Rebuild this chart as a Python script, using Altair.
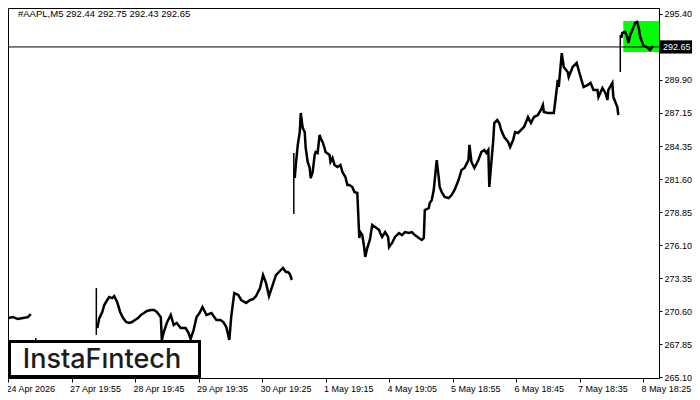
import altair as alt
import pandas as pd

# ---- price path (bar number ~ screen column, price) ----
a_bar = [3, 8, 13, 18, 23, 26]
a_px = [270.02, 270.10, 269.94, 270.02, 270.10, 270.36]

b_bar = [28, 31, 35, 45, 55, 65, 75, 85, 91]
b_px = [267.6, 267.9, 267.3, 266.9, 266.6, 266.8, 267.0, 267.2, 267.5]

c_bar = [93, 95, 98, 100, 103, 105, 108, 110, 113, 116, 119, 122, 125, 128, 131, 134,
         137, 140, 143, 147, 150, 153, 157, 158, 160, 163, 167, 170, 173, 177, 182, 185,
         187, 190, 193, 196, 199, 203, 208, 213, 217, 220, 223, 226, 228, 231, 235, 238,
         243, 247, 250, 253, 257, 260, 263, 266, 268, 273, 277, 280, 283, 285, 287, 289]
c_px = [269.19, 270.02, 270.53, 271.11, 271.53, 271.78, 271.69, 271.86, 271.36, 270.53,
        270.02, 269.69, 269.61, 269.69, 269.86, 270.02, 270.28, 270.44, 270.61, 270.69,
        270.69, 270.53, 270.10, 268.19, 268.86, 269.61, 270.28, 269.44, 269.61, 269.19,
        269.19, 268.77, 268.27, 269.02, 270.10, 270.44, 270.94, 270.28, 270.44, 269.86,
        269.86, 269.69, 269.27, 268.19, 270.19, 272.11, 271.95, 271.53, 271.28, 271.53,
        271.61, 271.86, 272.53, 273.61, 272.95, 271.86, 272.36, 273.61, 273.95, 274.20,
        273.86, 273.86, 273.70, 273.20]

d_bar = [292, 293, 295, 297, 298, 300, 302, 303, 305, 307, 308, 310, 312, 313, 315, 317,
         318, 320, 322, 323, 327, 328, 330, 332, 335, 338, 340, 343, 345, 347, 350, 352,
         355, 357, 358, 360, 362, 363, 365, 367, 368, 370, 373, 377, 378, 380, 383, 386,
         387, 390, 393, 397, 400, 403, 407, 410, 413, 417, 420, 422, 423, 425, 427, 428,
         430, 432, 433, 435, 437, 438, 440, 443, 447, 450, 453, 457, 460, 463, 467, 468,
         470, 473, 477, 480, 483, 485, 487, 488, 490, 492, 493, 496, 498, 500, 503, 507,
         509, 512, 514, 517, 520, 523, 527, 530, 533, 537, 540, 542, 543, 547, 553, 555,
         557, 558, 561, 563, 567, 568, 572, 576, 580, 583, 587, 590, 593, 597, 598, 602,
         605, 607, 608, 612, 613, 617, 618]
d_px = [281.71, 282.80, 284.47, 285.55, 287.14, 285.88, 285.55, 284.21, 283.05, 282.55,
        281.71, 282.21, 283.63, 283.88, 283.80, 285.30, 285.05, 284.72, 284.21, 283.88,
        283.63, 283.05, 283.38, 282.80, 282.63, 282.80, 282.21, 281.79, 281.13, 281.13,
        280.96, 280.54, 280.46, 276.70, 277.20, 276.95, 275.87, 275.12, 275.87, 276.37,
        276.70, 277.79, 277.62, 277.37, 277.12, 276.79, 277.20, 276.79, 275.95, 276.29,
        276.79, 277.12, 276.95, 277.20, 277.12, 277.20, 276.95, 276.70, 276.54, 276.70,
        279.04, 279.12, 279.21, 279.62, 279.87, 280.71, 281.54, 283.21, 281.79, 280.96,
        280.54, 280.13, 280.04, 280.29, 280.71, 281.54, 282.38, 282.55, 283.21, 284.47,
        283.05, 282.55, 283.21, 283.88, 284.05, 283.80, 284.05, 280.96, 282.96, 284.88,
        286.30, 286.55, 286.30, 285.72, 285.13, 284.72, 284.30, 284.88, 285.55, 285.47,
        285.72, 285.97, 286.80, 286.30, 286.80, 286.97, 287.39, 287.80, 287.22, 287.14,
        287.14, 288.47, 289.89, 289.31, 292.14, 290.98, 290.56, 290.14, 290.98, 291.31,
        290.14, 289.31, 289.47, 289.64, 289.06, 289.06, 288.47, 289.22, 288.81, 288.22,
        289.06, 289.64, 288.47, 287.64, 286.97]

e_bar = [621, 622, 625, 627, 628, 630, 633, 635, 637, 639, 640, 642, 643, 646, 648, 650, 652, 653]
e_px = [293.40, 293.81, 293.90, 293.48, 292.98, 293.65, 294.23, 294.65, 294.73, 294.06,
        293.48, 293.06, 292.81, 292.65, 292.56, 292.40, 292.65, 292.65]

# long single bars at the session gaps (bar, low, high)
spike_bar = [31, 92, 291, 620]
spike_lo = [267.50, 268.61, 278.71, 290.56]
spike_hi = [268.36, 272.53, 283.80, 293.65]

# pattern rectangle (bar from, bar to, price top, price bottom)
box_bar = [623]
box_bar2 = [659]
box_top = [294.82]
box_bot = [292.23]

last_price = [292.65]

y_ticks = [265.10, 267.85, 270.60, 273.35, 276.10, 278.85, 281.60, 284.35,
           287.15, 289.90, 295.40]
x_tick_bars = [3, 67, 131, 195, 259, 323, 387, 451, 515, 579, 643]
x_tick_labels = ["24 Apr 2026", "27 Apr 19:55", "28 Apr 19:45", "29 Apr 19:35",
                 "30 Apr 19:25", "1 May 19:15", "4 May 19:05", "5 May 18:55",
                 "6 May 18:45", "7 May 18:35", "8 May 18:25"]

title_text = "#AAPL,M5  292.44 292.75 292.43 292.65"
logo_text = "InstaFıntech"

# ---- build tables ----
rows = []
for seg, (bs, ps) in enumerate([(a_bar, a_px), (b_bar, b_px), (c_bar, c_px),
                                (d_bar, d_px), (e_bar, e_px)]):
    for b, p in zip(bs, ps):
        rows.append({"bar": b, "price": p, "seg": seg})
line_df = pd.DataFrame(rows)
spike_df = pd.DataFrame({"bar": spike_bar, "lo": spike_lo, "hi": spike_hi})
box_df = pd.DataFrame({"b1": box_bar, "b2": box_bar2, "t": box_top, "bt": box_bot})
last_df = pd.DataFrame({"p": last_price})
one = pd.DataFrame({"a": [0]})

FONT = "Liberation Sans"
FS = 9
W, H = 651, 370
xs = alt.Scale(domain=[3, 659], nice=False, zero=False)
ys = alt.Scale(domain=[265.02, 295.90], nice=False, zero=False)

label_expr = "[" + ",".join("'%s'" % s for s in x_tick_labels) + "][indexof([" + \
    ",".join(str(v) for v in x_tick_bars) + "], datum.value)]"

x_axis = alt.Axis(values=x_tick_bars, labelExpr=label_expr, grid=False, tickSize=4,
                  labelAlign="left", labelBaseline="top", labelPadding=2, labelOffset=-2,
                  labelFont=FONT, labelFontSize=FS, labelColor="black",
                  tickColor="black", domainColor="black", labelOverlap=False,
                  labelFlush=False, labelBound=False, title=None)
y_axis = alt.Axis(values=y_ticks, format=".2f", orient="right", grid=False, tickSize=3,
                  labelPadding=2, labelFont=FONT, labelFontSize=FS, labelColor="black",
                  tickColor="black", domainColor="black", labelOverlap=False,
                  labelFlush=False, labelBound=False, title=None)

X = lambda f: alt.X(f, scale=xs, axis=x_axis)
Y = lambda f: alt.Y(f, scale=ys, axis=y_axis)

green = alt.Chart(box_df).mark_rect(color="#00FF00").encode(
    x=X("b1:Q"), x2="b2:Q", y=Y("t:Q"), y2="bt:Q")

hline = alt.Chart(last_df).mark_rule(color="black", strokeWidth=1).encode(y=Y("p:Q"))

line = alt.Chart(line_df).mark_line(color="black", strokeWidth=2.5, strokeJoin="miter",
                                    interpolate="linear").encode(
    x=X("bar:Q"), y=Y("price:Q"), detail="seg:N")

spikes = alt.Chart(spike_df).mark_rule(color="black", strokeWidth=1.5).encode(
    x=X("bar:Q"), y=Y("lo:Q"), y2="hi:Q")

logo_box = alt.Chart(one).mark_rect(fill="white", stroke="black", strokeWidth=3).encode(
    x=alt.value(1.5), x2=alt.value(191.5), y=alt.value(333.5), y2=alt.value(368.5))

logo = alt.Chart(one).mark_text(text=logo_text, font="Inter", fontSize=27, fontWeight=500,
                                color="#1c1c1c", align="center",
                                baseline="alphabetic").encode(
    x=alt.value(94), y=alt.value(360))

title = alt.Chart(one).mark_text(text=title_text, font=FONT, fontSize=9.5, color="black",
                                 align="left", baseline="alphabetic").encode(
    x=alt.value(10), y=alt.value(9))

price_tag = alt.Chart(last_df).transform_calculate(
    top="datum.p + 0.55", bot="datum.p - 0.55").mark_rect(color="black").encode(
    x=alt.value(652), x2=alt.value(684), y=Y("top:Q"), y2="bot:Q")

price_txt = alt.Chart(last_df).mark_text(font=FONT, fontSize=FS, color="white",
                                         align="left", baseline="middle").encode(
    x=alt.value(655), y=Y("p:Q"), text=alt.Text("p:Q", format=".2f"))

chart = alt.layer(green, hline, line, spikes, logo_box, logo, title, price_tag,
                  price_txt).properties(
    width=W, height=H, autosize=alt.AutoSizeParams(type="none"),
    padding={"left": 0, "top": 0, "right": 33, "bottom": 22},
    background="white"
).configure_view(stroke="black", strokeWidth=1).configure_axis(labelOverlap=False)

chart.save("out.html", embed_options={"renderer": "svg", "actions": False})
